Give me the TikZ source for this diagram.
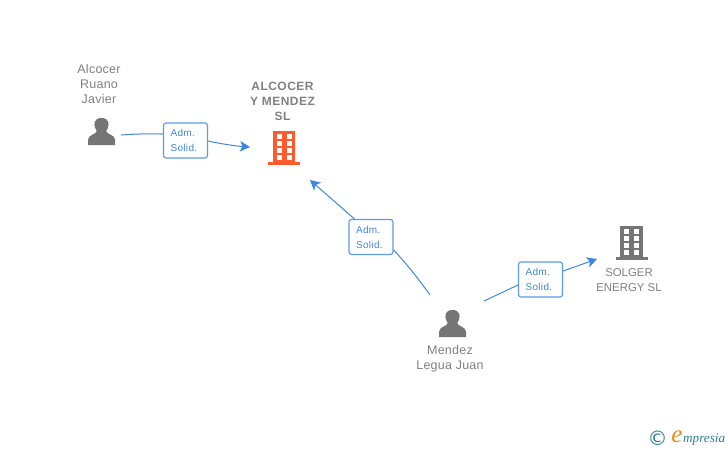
\documentclass[tikz,border=0pt]{standalone}
\usepackage{fontspec}
\setmainfont{Liberation Sans}
\newfontfamily\logofont{DejaVu Sans}
\newfontfamily\scriptish{Liberation Serif}
\newfontfamily\lblfont[LetterSpace=2]{Liberation Sans}
\newfontfamily\boldlblfont[LetterSpace=4]{Liberation Sans}
\newfontfamily\boxfont[LetterSpace=3]{Liberation Sans}
\definecolor{inkgrey}{HTML}{757575}
\definecolor{txtgrey}{HTML}{808080}
\definecolor{linkblue}{HTML}{3F86E0}
\definecolor{boxblue}{HTML}{5B9BEA}
\definecolor{bldorange}{HTML}{FF5A2B}
\definecolor{logoteal}{HTML}{2E7F92}
\definecolor{logoorange}{HTML}{F08A1D}
\usetikzlibrary{arrows.meta}
\tikzset{
  x=1pt,y=-1pt,
  lbl/.style={font=\lblfont\fontsize{12.5}{15}\selectfont,text=txtgrey,align=center,inner sep=0pt},
  lblcaps/.style={lbl,font=\fontsize{11.4}{15}\selectfont},
  lblbold/.style={lbl,font=\boldlblfont\fontsize{12}{15}\bfseries\selectfont},
  relbox/.style={draw=boxblue,fill=white,rounded corners=2.5pt,line width=1.1pt,minimum width=44pt,minimum height=35pt,inner sep=0pt,text=linkblue},
  boxtext/.style={inner sep=0pt,anchor=west,align=left,text=linkblue,font=\boxfont\fontsize{10}{15}\selectfont},
  link/.style={draw=linkblue,line width=1pt},
  linkarrow/.style={link,-{Stealth[length=10pt,width=10.5pt,inset=2.5pt]}},
  pics/person/.style={code={
    \fill[inkgrey] (0,-13.5) .. controls (-7.5,-13.5) and (-8,-7.5) .. (-6.3,-3.5) .. controls (-5.8,-2.2) and (-5.2,-1.2) .. (-4.8,-0.5) .. controls (-4.8,2.8) and (-13.2,3) .. (-13.5,8) -- (-13.5,13.5) -- (13.5,13.5) -- (13.5,8) .. controls (13.2,3) and (4.8,2.8) .. (4.8,-0.5) .. controls (5.2,-1.2) and (5.8,-2.2) .. (6.3,-3.5) .. controls (8,-7.5) and (7.5,-13.5) .. (0,-13.5) -- cycle;
  }},
  pics/building/.style={code={
    \fill[#1] (-11.3,-17) rectangle (11.3,15);
    \fill[#1] (-16,14) rectangle (16,17);
    \foreach \r in {-13.5,-6.5,0.5,7.5}{
      \fill[white] (-7.5,\r) rectangle (-2.5,{\r+4.5});
      \fill[white] (2.5,\r) rectangle (7.5,{\r+4.5});
    }
  }}
}
\begin{document}
\begin{tikzpicture}
\useasboundingbox (0,0) rectangle (728,450);
\pic at (101.5,131.5) {person};
\pic at (452.5,323.5) {person};
\pic at (284,147.5) {building=bldorange};
\pic at (631.5,242.5) {building=inkgrey};

\node[lbl] (n1) at (99,84) {Alcocer\\Ruano\\Javier};
\node[lblbold] (n2) at (282.5,101) {ALCOCER\\Y MENDEZ\\SL};
\node[lblcaps] (n3) at (629,280) {SOLGER\\ENERGY SL};
\node[lbl] (n4) at (450,359) {Mendez\\Legua Juan};

\node[relbox] (b1) at (185.5,140.5) {};
\node[relbox] (b2) at (371,237) {};
\node[relbox] (b3) at (540.5,279.5) {};
\node[boxtext] (t1a) at ([xshift=7.5pt]b1.west) {Adm.\\Solid.};
\node[boxtext] (t2a) at ([xshift=7.5pt]b2.west) {Adm.\\Solid.};
\node[boxtext] (t3a) at ([xshift=7.5pt]b3.west) {Adm.\\Solid.};

\coordinate (s1) at (121,135);
\coordinate (t1) at (250,147);
\coordinate (s2) at (430,295);
\coordinate (t2) at (310,180);
\coordinate (s3) at (484,301);
\coordinate (t3) at (597,259);

\draw[link] (s1) .. controls (135,134) and (150,133.5) .. (b1.west |- 0,134);
\draw[linkarrow] (b1.east |- 0,141) .. controls (222,144) and (235,146) .. (t1);
\draw[link] (s2) .. controls (418,278) and (405,262) .. (b2.east |- 0,250);
\draw[linkarrow] (b2.north west) ++(6,0) -- (t2);
\draw[link] (s3) -- (b3.west |- 0,285);
\draw[linkarrow] (b3.east |- 0,271) -- (t3);

\node[inner sep=0pt,text=logoteal,font=\logofont\fontsize{20}{20}\selectfont] (c) at (657.5,438.5) {©};
\node[inner sep=0pt,text=logoorange,font=\scriptish\fontsize{25}{25}\itshape\selectfont] (e) at (677,436.5) {e};
\node[inner sep=0pt,anchor=west,text=logoteal,font=\scriptish\fontsize{13.2}{14}\itshape\selectfont] (m) at (683,440) {mpresia};
\end{tikzpicture}
\end{document}
